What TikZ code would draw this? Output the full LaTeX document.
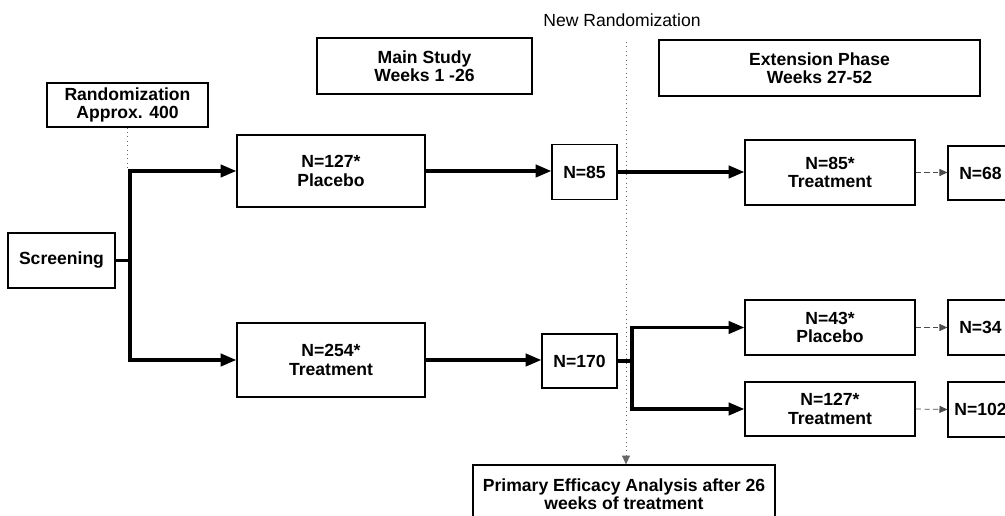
\documentclass[tikz,border=0pt]{standalone}
\usepackage{fontspec}
\setmainfont{Liberation Sans}
\usetikzlibrary{arrows.meta}
\tikzset{
  stage/.style={draw, line width=0.7pt, font=\fontsize{10}{10.5}\selectfont\bfseries, align=center, inner sep=0pt},
  flow/.style={line width=1.9pt, -{Triangle[length=9pt,width=7pt]}},
  lapse/.style={densely dashed, line width=0.4pt, black!70, -{Triangle[length=4.5pt,width=4pt]}},
  split/.style={dotted, line width=0.5pt, black!60}
}

\begin{document}
\begin{tikzpicture}[x=0.02cm, y=-0.02cm]
			%%%%% START %%%%%
			\path[use as bounding box] (0,0) rectangle (1005,516);
			\clip (0,0) rectangle (1005,516);
			
			% headers
			\node[stage, minimum width=3.22cm, minimum height=0.88cm] (rand) at (127.5,105) {Randomization\\Approx. 400};
			\node[stage, minimum width=4.3cm, minimum height=1.12cm] (main) at (424.5,66) {Main Study\\Weeks 1 -26};
			\node[stage, minimum width=6.42cm, minimum height=1.12cm] (ext) at (819.5,68) {Extension Phase\\Weeks 27-52};
			\node[font=\fontsize{10}{10.5}\selectfont] (newrand) at (622,20) {New Randomization};
			
			% main study
			\node[stage, minimum width=2.14cm, minimum height=1.1cm] (screen) at (61.5,260.5) {Screening};
			\node[stage, minimum width=3.76cm, minimum height=1.44cm] (plac) at (331,171) {N=127*\\Placebo};
			\node[stage, minimum width=3.76cm, minimum height=1.48cm] (treat) at (331,360) {N=254*\\Treatment};
			\node[stage, minimum width=1.3cm, minimum height=1.1cm] (n85) at (584.5,172) {N=85};
			\node[stage, minimum width=1.5cm, minimum height=1.08cm] (n170) at (579.5,361) {N=170};
			
			% extension phase
			\node[stage, minimum width=3.4cm, minimum height=1.3cm] (ext85) at (830,172.5) {N=85*\\Treatment};
			\node[stage, minimum width=3.4cm, minimum height=1.1cm] (ext43) at (830,327.5) {N=43*\\Placebo};
			\node[stage, minimum width=3.4cm, minimum height=1.08cm] (ext127) at (830,409) {N=127*\\Treatment};
			\node[stage, minimum width=1.3cm, minimum height=1.08cm] (n68) at (980.5,173) {N=68};
			\node[stage, minimum width=1.3cm, minimum height=1.1cm] (n34) at (980.5,327.5) {N=34};
			\node[stage, minimum width=1.3cm, minimum height=1.1cm] (n102) at (980.5,409.5) {N=102};
			
			\node[stage, minimum width=6.04cm, minimum height=1.16cm] (primary) at (624,494) {Primary Efficacy Analysis after 26\\weeks of treatment};
			
			% branch points
			\coordinate (fork) at (130,171);
			\coordinate (forkb) at (130,360);
			\coordinate (join) at (130,260.5);
			\coordinate (fork2) at (632,327.5);
			\coordinate (fork2b) at (632,409);
			\coordinate (join2) at (632,361);
			\coordinate (cut) at (626,42);
			
			\draw[split] (rand.south) -- (rand.south |- fork);
			\draw[line width=1.9pt] (screen.east) -- (join);
			\draw[line width=1.9pt, line cap=rect] (fork) -- (forkb);
			\draw[flow] (fork) -- (plac.west);
			\draw[flow] (forkb) -- (treat.west);
			
			\draw[flow] (plac.east) -- (plac.east -| n85.west);
			\draw[flow] (treat.east) -- (treat.east -| n170.west);
			
			\draw[split, -{Triangle[length=5pt,width=4.5pt]}] (cut) -- (cut |- primary.north);
			
			\draw[flow] (n85.east) -- (n85.east -| ext85.west);
			\draw[line width=1.9pt] (n170.east) -- (join2);
			\draw[line width=1.9pt, line cap=rect] (fork2) -- (fork2b);
			\draw[flow] (fork2) -- (ext43.west);
			\draw[flow] (fork2b) -- (ext127.west);
			
			\draw[lapse] (ext85.east) -- (n68.west |- ext85.east);
			\draw[lapse] (ext43.east) -- (n34.west);
			\draw[lapse] (ext127.east) -- (n102.west);
			%%%%% END %%%%%
\end{tikzpicture}
\end{document}
